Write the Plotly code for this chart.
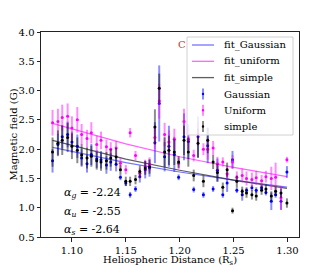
import plotly.graph_objects as go

distance = [1.082, 1.087, 1.091, 1.096, 1.100, 1.105, 1.109, 1.114, 1.118, 1.123,
            1.127, 1.132, 1.136, 1.141, 1.145, 1.150, 1.154, 1.159, 1.163, 1.168,
            1.172, 1.177, 1.181, 1.186, 1.190, 1.195, 1.199, 1.204, 1.208, 1.213,
            1.217, 1.222, 1.226, 1.231, 1.235, 1.240, 1.244, 1.249, 1.253, 1.258,
            1.262, 1.267, 1.271, 1.276, 1.280, 1.285, 1.289, 1.294, 1.2995]

b_gauss = [1.80, 2.08, 2.21, 2.25, 2.12, 2.05, 1.85, 1.75, 1.91, 1.83,
           1.82, 1.73, 1.78, 1.74, 1.52, 1.42, 1.22, 1.32, 1.53, 1.65,
           1.68, 2.11, 2.78, 1.87, 2.05, 1.91, 1.52, 2.21, 2.13, 1.31,
           2.21, 1.22, 2.06, 1.32, 1.64, 1.22, 1.42, 1.82, 1.30, 1.22,
           1.30, 1.34, 1.30, 1.34, 1.26, 1.11, 1.22, 1.11, 1.61]
e_gauss = [0.20, 0.18, 0.20, 0.22, 0.18, 0.20, 0.15, 0.15, 0.18, 0.15,
           0.15, 0.15, 0.15, 0.12, 0.05, 0.05, 0.05, 0.05, 0.10, 0.15,
           0.15, 0.35, 0.65, 0.25, 0.35, 0.30, 0.05, 0.40, 0.30, 0.05,
           0.35, 0.05, 0.30, 0.05, 0.20, 0.05, 0.15, 0.15, 0.05, 0.10,
           0.05, 0.05, 0.05, 0.05, 0.05, 0.15, 0.05, 0.15, 0.10]

b_unif = [2.45, 2.47, 2.54, 2.56, 2.36, 2.50, 2.25, 2.18, 2.28, 2.08,
          2.15, 2.04, 2.00, 2.02, 1.76, 1.65, 2.28, 1.89, 1.59, 1.70,
          1.74, 2.20, 2.82, 2.25, 2.12, 2.17, 1.76, 2.47, 2.17, 1.89,
          2.26, 2.00, 2.00, 2.02, 1.75, 1.78, 1.58, 1.78, 1.52, 1.55,
          1.50, 1.48, 1.51, 1.46, 1.53, 1.50, 1.52, 1.17, 1.82]
e_unif = [0.22, 0.22, 0.22, 0.22, 0.20, 0.22, 0.18, 0.15, 0.18, 0.15,
          0.15, 0.12, 0.12, 0.12, 0.10, 0.08, 0.08, 0.08, 0.08, 0.12,
          0.12, 0.20, 0.30, 0.20, 0.20, 0.18, 0.10, 0.22, 0.18, 0.10,
          0.20, 0.10, 0.18, 0.12, 0.12, 0.08, 0.10, 0.12, 0.10, 0.12,
          0.12, 0.12, 0.12, 0.10, 0.10, 0.20, 0.25, 0.20, 0.05]

b_simple = [1.95, 2.10, 2.15, 2.20, 2.05, 1.98, 1.90, 1.85, 1.88, 1.80,
            1.78, 1.80, 1.85, 1.87, 1.65, 1.45, 1.45, 1.48, 1.62, 1.68,
            1.70, 2.38, 3.04, 1.95, 1.98, 1.95, 1.78, 2.15, 1.95, 1.55,
            2.10, 1.45, 2.15, 1.78, 1.60, 1.35, 1.65, 0.95, 1.45, 1.28,
            1.25, 1.22, 1.20, 1.30, 1.32, 1.20, 1.28, 1.25, 1.08]
e_simple = [0.25, 0.22, 0.25, 0.25, 0.22, 0.22, 0.18, 0.18, 0.18, 0.15,
            0.15, 0.15, 0.15, 0.15, 0.08, 0.08, 0.08, 0.08, 0.10, 0.12,
            0.12, 0.30, 0.25, 0.25, 0.25, 0.22, 0.10, 0.25, 0.25, 0.10,
            0.25, 0.10, 0.22, 0.12, 0.15, 0.08, 0.12, 0.05, 0.10, 0.08,
            0.08, 0.08, 0.08, 0.08, 0.08, 0.08, 0.08, 0.08, 0.08]

fit_x = [1.082, 1.15, 1.20, 1.25, 1.2995]
fit_gauss = [2.03, 1.77, 1.61, 1.47, 1.35]
fit_unif = [2.44, 2.09, 1.87, 1.69, 1.53]
fit_simple = [2.15, 1.83, 1.64, 1.47, 1.33]

alpha_labels = ["<i>α</i><sub><i>g</i></sub> = -2.24",
                "<i>α</i><sub><i>u</i></sub> = -2.55",
                "<i>α</i><sub><i>s</i></sub> = -2.64"]

FONT = "DejaVu Serif"
LINE_COLS = ["rgba(70,70,255,0.75)", "rgba(255,60,255,0.8)", "rgba(40,40,40,0.75)"]
PT_COLS = ["#0000ff", "#ff00ff", "#000000"]
ERR_COLS = ["rgba(0,0,255,0.45)", "rgba(255,0,255,0.45)", "rgba(0,0,0,0.45)"]
fit_names = ["fit_Gaussian", "fit_uniform", "fit_simple"]
pt_names = ["Gaussian", "Uniform", "simple"]

fig = go.Figure()
for nm, ys, lc in zip(fit_names, [fit_gauss, fit_unif, fit_simple], LINE_COLS):
    fig.add_trace(go.Scatter(x=fit_x, y=ys, mode="lines", name=nm,
                             line=dict(color=lc, width=1.2), showlegend=False))

for nm, ys, es, col, ecol in zip(pt_names, [b_gauss, b_unif, b_simple],
                                 [e_gauss, e_unif, e_simple], PT_COLS, ERR_COLS):
    fig.add_trace(go.Scatter(
        x=distance, y=ys, mode="markers", name=nm, showlegend=False,
        marker=dict(color=col, size=3, symbol="circle"),
        error_y=dict(type="data", array=es, visible=True, color=ecol,
                     thickness=2, width=0)))

for i, t in enumerate(alpha_labels):
    fig.add_annotation(x=0.081, y=[0.215, 0.122, 0.034][i], xref="paper", yref="paper",
                       text=t, showarrow=False, xanchor="left", yanchor="middle",
                       font=dict(family=FONT, size=11, color="black"))

fig.add_annotation(x=0.548, y=0.937, xref="paper", yref="paper", text="C",
                   showarrow=False, xanchor="center", yanchor="middle",
                   font=dict(family=FONT, size=10, color="#c0392b"))

# x-axis title placed as annotation below the tick labels
fig.add_annotation(x=0.5, y=-0.117, xref="paper", yref="paper",
                   text="Heliospheric Distance (R<sub>s</sub>)", showarrow=False,
                   xanchor="center", yanchor="middle",
                   font=dict(family=FONT, size=10, color="black"))

# legend (drawn as box + samples + texts in paper coordinates)
W, H = 258.0, 205.0
def px(x):
    return (x - 41) / W
def py(y):
    return (237 - y) / H

fig.add_shape(type="rect", xref="paper", yref="paper", layer="above",
              x0=px(187), x1=px(293), y0=py(135), y1=py(37),
              fillcolor="rgba(255,255,255,0.85)", line=dict(color="#d0d0d0", width=1))
rows = [45, 61.3, 77.6, 94, 110.2, 126.5]
names = fit_names + pt_names
for i, (nm, yy) in enumerate(zip(names, rows)):
    if i < 3:
        fig.add_shape(type="line", xref="paper", yref="paper", layer="above",
                      x0=px(192), x1=px(214), y0=py(yy), y1=py(yy),
                      line=dict(color=LINE_COLS[i], width=1.3))
    else:
        j = i - 3
        fig.add_shape(type="line", xref="paper", yref="paper", layer="above",
                      x0=px(203), x1=px(203), y0=py(yy + 5.5), y1=py(yy - 5.5),
                      line=dict(color=ERR_COLS[j], width=2))
        fig.add_shape(type="circle", xref="paper", yref="paper", layer="above",
                      x0=px(201.8), x1=px(204.2), y0=py(yy + 1.2), y1=py(yy - 1.2),
                      fillcolor=PT_COLS[j], line=dict(color=PT_COLS[j], width=0))
    fig.add_annotation(x=px(222), y=py(yy), xref="paper", yref="paper", text=nm,
                       showarrow=False, xanchor="left", yanchor="middle",
                       font=dict(family=FONT, size=10, color="black"))

# page body has an 8px margin, so the figure is 8px smaller and margins shifted
fig.update_layout(
    width=324, height=258,
    margin=dict(l=33, r=33, t=24, b=29, autoexpand=False),
    paper_bgcolor="white", plot_bgcolor="white",
    font=dict(family=FONT, size=10, color="black"),
    showlegend=False,
)
fig.update_xaxes(range=[1.0713, 1.3107], tickvals=[1.10, 1.15, 1.20, 1.25, 1.30],
                 tickformat=".2f", showgrid=False, zeroline=False, automargin=False,
                 showline=True, linecolor="#222", linewidth=1, mirror=True,
                 ticks="outside", ticklen=3.5, tickcolor="#222")
fig.update_yaxes(range=[0.5, 4.0], dtick=0.5, tickformat=".1f", showgrid=False,
                 zeroline=False, showline=True, linecolor="#222", linewidth=1,
                 mirror=True, ticks="outside", ticklen=3.5, tickcolor="#222",
                 automargin=False,
                 title=dict(text="Magnetic field (G)", standoff=2,
                            font=dict(family=FONT, size=10)))

fig.write_html("out.html")
